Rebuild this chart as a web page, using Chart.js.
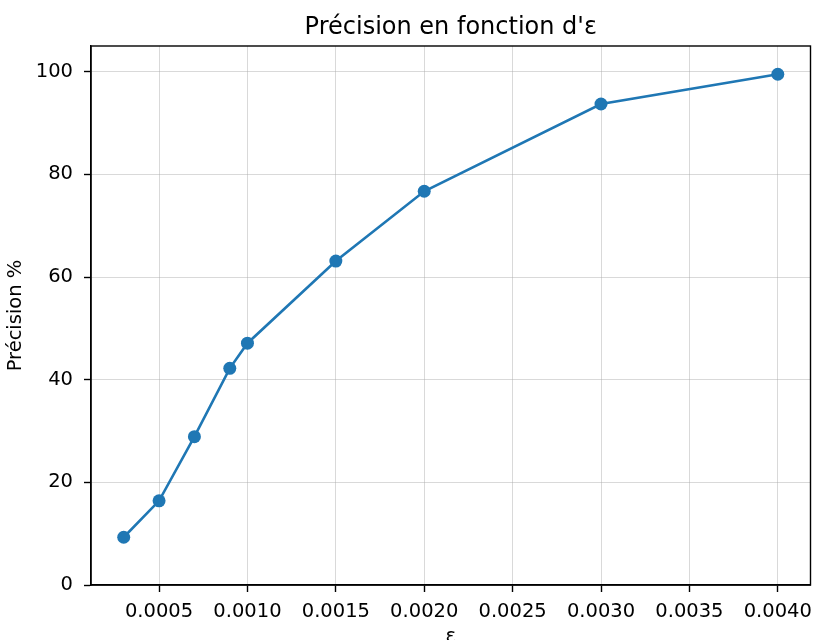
<!DOCTYPE html>
<html>
<head>
<meta charset="utf-8">
<script src="https://cdn.jsdelivr.net/npm/chart.js@4/dist/chart.umd.min.js"></script>
<style>
  html, body { margin: 0; padding: 0; background: #fff; width: 817px; height: 640px; overflow: hidden; }
  canvas { display: block; }
</style>
</head>
<body>
<canvas id="c" width="817" height="653"></canvas>
<script>
const epsilon = [0.0003, 0.0005, 0.0007, 0.0009, 0.0010, 0.0015, 0.0020, 0.0030, 0.0040];
const precision = [9.3, 16.4, 28.9, 42.2, 47.1, 63.1, 76.7, 93.7, 99.5];
const xTicks = [0.0005, 0.0010, 0.0015, 0.0020, 0.0025, 0.0030, 0.0035, 0.0040];
const yTicks = [0, 20, 40, 60, 80, 100];

const FONT = "'DejaVu Sans', sans-serif";
const GRID = 'rgba(170,170,170,0.45)';

const frame = {
  id: 'frame',
  afterDraw(chart) {
    const a = chart.chartArea, ctx = chart.ctx;
    ctx.save();
    ctx.strokeStyle = '#000';
    ctx.lineWidth = 1.4;
    ctx.strokeRect(a.left, a.top, a.right - a.left, a.bottom - a.top);
    ctx.restore();
  }
};

new Chart(document.getElementById('c'), {
  type: 'line',
  data: {
    datasets: [{
      data: epsilon.map((x, i) => ({ x, y: precision[i] })),
      borderColor: '#1f77b4',
      backgroundColor: '#1f77b4',
      borderWidth: 2.6,
      pointRadius: 6.5,
      pointHoverRadius: 6.5,
      pointBorderWidth: 0,
      fill: false,
      tension: 0
    }]
  },
  options: {
    responsive: false,
    devicePixelRatio: 1,
    animation: false,
    layout: { padding: { left: 0, right: 3, top: 0, bottom: 0 } },
    plugins: {
      legend: { display: false },
      tooltip: { enabled: false },
      title: {
        display: true,
        fullSize: false,
        text: "Précision en fonction d'ε",
        color: '#000',
        font: { family: FONT, size: 24, weight: 'normal' },
        padding: { top: 13.6, bottom: 3.6 }
      }
    },
    scales: {
      x: {
        type: 'linear',
        min: 0.000115,
        max: 0.004185,
        afterBuildTicks(s) { s.ticks = xTicks.map(v => ({ value: v })); },
        afterFit(s) { s.height = 68; s.paddingRight = 0; s.paddingLeft = 0; },
        ticks: {
          color: '#000',
          font: { family: FONT, size: 19.5 },
          padding: 8,
          maxRotation: 0,
          autoSkip: false,
          callback: v => v.toFixed(4)
        },
        grid: { color: GRID, lineWidth: 1, tickColor: '#000', tickLength: 7, tickWidth: 1.4 },
        border: { color: '#000', width: 1.4 },
        title: {
          display: true,
          text: 'ε',
          color: '#000',
          font: { family: FONT, size: 19.5 },
          padding: { top: 4, bottom: 4 }
        }
      },
      y: {
        type: 'linear',
        min: 0,
        max: 105,
        afterBuildTicks(s) { s.ticks = yTicks.map(v => ({ value: v })); },
        afterFit(s) { s.width = 91; s.paddingTop = 0; s.paddingBottom = 0; },
        ticks: {
          color: '#000',
          font: { family: FONT, size: 19.5 },
          padding: 11,
          autoSkip: false
        },
        grid: { color: GRID, lineWidth: 1, tickColor: '#000', tickLength: 7, tickWidth: 1.4 },
        border: { color: '#000', width: 1.4 },
        title: {
          display: true,
          text: 'Précision %',
          color: '#000',
          font: { family: FONT, size: 19.5 },
          padding: { top: 4, bottom: 4 }
        }
      }
    }
  },
  plugins: [frame]
});
</script>
</body>
</html>
